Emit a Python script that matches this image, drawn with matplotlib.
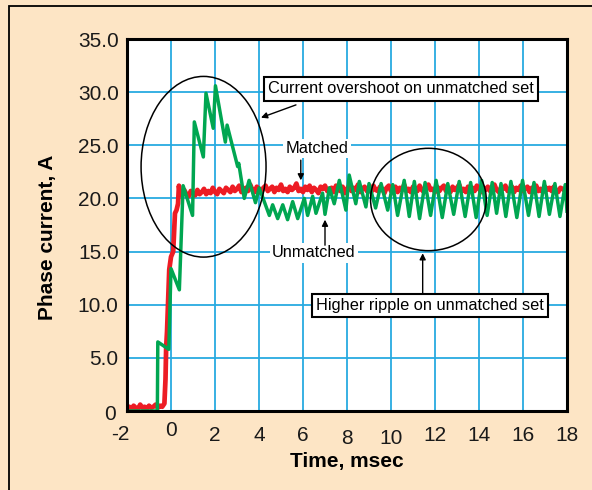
import numpy as np
import matplotlib
matplotlib.use('Agg')
import matplotlib.pyplot as plt
import matplotlib.patches as pat
from matplotlib.transforms import ScaledTranslation

plt.rcParams['font.family'] = ['Liberation Sans', 'DejaVu Sans']

# matched set (red) - noisy trace
red_pre_t = [-2.0, -1.9, -1.8, -1.7, -1.6, -1.5, -1.4, -1.3, -1.2, -1.1,
             -1.0, -0.9, -0.8, -0.7, -0.6, -0.5, -0.4, -0.3]
red_pre_v = [0.2, 0.4, 0.1, 0.5, 0.3, 0.2, 0.6, 0.3, 0.4, 0.2,
             0.5, 0.3, 0.4, 0.6, 0.3, 0.5, 0.4, 0.7]
red_rise_t = [-0.25, -0.22, -0.18, -0.12, -0.08, 0.0, 0.1, 0.18, 0.25, 0.32, 0.36]
red_rise_v = [3.0, 6.0, 7.5, 11.0, 13.3, 14.5, 15.0, 18.6, 18.9, 19.5, 21.2]
# samples every 0.1 ms from 0.4 to 18.0
red_flat_v = [20.6, 20.3, 20.8, 20.4, 20.2, 20.7, 20.5, 20.3, 20.8, 20.4,
              20.6, 20.9, 20.4, 20.7, 20.5, 21.0, 20.6, 20.4, 20.9, 20.7,
              20.5, 21.0, 20.8, 20.6, 21.1, 20.7, 20.9, 21.2, 20.6, 20.8,
              21.0, 20.7, 21.3, 20.8, 20.6, 21.1, 20.9, 20.5, 21.0, 21.2,
              20.7, 20.9, 21.1, 20.6, 21.0, 20.8, 21.3, 20.7, 20.9, 20.6,
              21.1, 20.8, 21.0, 21.4, 20.7, 20.9, 20.6, 21.1, 20.8, 21.2,
              20.6, 21.0, 20.8, 20.5, 21.1, 20.9, 21.2, 20.7, 20.9, 21.0,
              20.6, 21.2, 20.8, 20.7, 21.1, 20.5, 20.9, 21.2, 20.7, 21.0,
              20.8, 21.3, 20.6, 20.9, 21.1, 20.7, 21.0, 20.6, 21.2, 20.8,
              20.7, 21.1, 20.9, 20.5, 21.0, 21.2, 20.7, 20.9, 21.1, 20.6,
              21.0, 20.8, 21.3, 20.7, 20.9, 20.6, 21.1, 21.0, 20.7, 21.2,
              20.8, 20.6, 21.0, 21.3, 20.8, 20.9, 20.6, 21.1, 20.7, 21.0,
              21.2, 20.7, 20.9, 20.6, 21.1, 20.8, 21.0, 21.3, 20.7, 20.9,
              20.6, 21.1, 20.8, 21.0, 20.7, 21.2, 20.9, 20.6, 21.0, 20.8,
              21.1, 20.7, 20.9, 21.3, 20.8, 20.6, 21.0, 20.9, 21.2, 20.7,
              20.9, 21.1, 20.6, 21.0, 20.8, 21.2, 20.7, 20.9, 21.1, 20.6,
              21.0, 20.8, 21.2, 20.7, 20.9, 20.6, 21.1, 20.8, 21.0, 20.7,
              21.1, 20.8, 20.6, 21.0, 20.9, 20.7, 20.9]
red_flat_t = np.round(np.arange(0.4, 18.001, 0.1), 2)

# unmatched set (green)
green_t = [-2.0, -0.62, -0.6, -0.1, 0.0, 0.38, 0.55, 0.98, 1.06, 1.47,
           1.59, 1.92, 2.02, 2.47, 2.55, 3.03, 3.08, 3.33, 3.55, 3.84,
           4.01, 4.47, 4.62, 4.85, 5.08, 5.3, 5.53, 5.76, 6.06, 6.21,
           6.44, 6.59, 6.89, 7.0, 7.2, 7.42, 7.65, 7.95, 8.1, 8.4,
           8.56, 8.86, 9.0, 9.3, 9.55, 9.85, 10.08, 10.3, 10.6, 10.83,
           11.06, 11.3, 11.55, 11.8, 12.05, 12.33, 12.58, 12.85, 13.1, 13.37,
           13.62, 13.87, 14.12, 14.37, 14.6, 14.8, 15.0, 15.22, 15.45, 15.72,
           15.98, 16.25, 16.5, 16.73, 16.97, 17.2, 17.45, 17.68, 17.92, 18.0]
green_v = [0.0, 0.0, 6.5, 5.8, 13.4, 11.4, 21.2, 18.4, 27.2, 23.9,
           29.9, 26.6, 30.6, 25.3, 26.9, 23.0, 23.3, 20.0, 21.7, 19.6,
           21.0, 18.4, 19.4, 18.1, 19.4, 18.0, 19.7, 18.1, 20.0, 18.4,
           20.2, 18.6, 20.5, 18.5, 21.0, 19.5, 21.7, 18.9, 22.2, 19.5,
           21.6, 19.2, 21.4, 19.1, 21.4, 18.9, 21.3, 18.4, 21.7, 18.3,
           21.6, 18.1, 21.5, 18.4, 21.7, 18.2, 21.4, 18.5, 21.6, 18.3,
           21.5, 18.2, 21.7, 18.4, 21.5, 18.6, 21.4, 18.3, 21.6, 18.2,
           21.7, 18.4, 21.5, 18.3, 21.6, 18.5, 21.4, 18.3, 21.3, 18.8]

xticks = [-2, 0, 2, 4, 6, 8, 10, 12, 14, 16, 18]
yticks = [0, 5, 10, 15, 20, 25, 30, 35]
ytick_labels = ['0', '5.0', '10.0', '15.0', '20.0', '25.0', '30.0', '35.0']

bg = '#FDE5C5'
fig = plt.figure(figsize=(5.92, 4.90), dpi=100, facecolor=bg)
ax = fig.add_axes([127/592, 1-411/490, 440/592, 372/490])
ax.set_facecolor('white')

red_t = red_pre_t + red_rise_t + list(red_flat_t)
red_v = red_pre_v + red_rise_v + red_flat_v
ax.plot(red_t, red_v, color='#ED1C24', lw=3.4, zorder=3)
ax.plot(green_t, green_v, color='#00A651', lw=2.5, zorder=4)

ax.set_xlim(-2, 18)
ax.set_ylim(0, 35)
ax.set_xticks(xticks)
ax.set_xticklabels([str(x) for x in xticks])
ax.set_yticks(yticks)
ax.set_yticklabels(ytick_labels)
ax.tick_params(length=0, labelsize=15, colors='#1a1a1a')
ax.tick_params(axis='x', pad=11)
ax.tick_params(axis='y', pad=6)
ax.grid(True, color='#27AAE1', lw=1.3, zorder=1)
ax.set_axisbelow(True)
for s in ax.spines.values():
    s.set_linewidth(2.2)
    s.set_zorder(6)

ax.set_xlabel('Time, msec', fontsize=15, fontweight='bold', labelpad=3)
ax.set_ylabel('Phase current, A', fontsize=15, fontweight='bold')
ax.yaxis.set_label_coords(-0.16, 0.468)

# small hand-placed offsets of some tick labels as in the original
def shift(lbl, dx, dy):
    lbl.set_transform(lbl.get_transform() + ScaledTranslation(dx/72, dy/72, fig.dpi_scale_trans))

xl = ax.get_xticklabels()
shift(xl[0], -5, 1)
shift(xl[1], 0, 3.5)
shift(xl[5], 0, -2)
shift(xl[6], 0, -2)
shift(ax.get_yticklabels()[0], -2, -1)

# ellipses around the regions of interest
ax.add_patch(pat.Ellipse((1.48, 22.98), 5.68, 17.0, fill=False, ec='black', lw=1.1, zorder=5))
ax.add_patch(pat.Ellipse((11.7, 19.9), 5.26, 9.63, fill=False, ec='black', lw=1.1, zorder=5))

arr = dict(arrowstyle='-|>', color='black', lw=1.0, mutation_scale=9, shrinkA=0, shrinkB=0)
ax.annotate('', xy=(4.09, 27.6), xytext=(5.68, 28.8), arrowprops=arr, zorder=5)
ax.text(10.45, 30.3, 'Current overshoot on unmatched set', fontsize=11.8, ha='center', va='center',
        bbox=dict(boxstyle='square,pad=0.25', fc='white', ec='black', lw=1.5), zorder=7)

ax.text(6.64, 24.7, 'Matched', fontsize=11.8, ha='center', va='center',
        bbox=dict(boxstyle='square,pad=0.15', fc='white', ec='none'), zorder=5)
ax.annotate('', xy=(5.9, 21.7), xytext=(5.9, 23.6), arrowprops=arr, zorder=5)

ax.text(6.5, 14.9, 'Unmatched', fontsize=11.8, ha='center', va='center',
        bbox=dict(boxstyle='square,pad=0.15', fc='white', ec='none'), zorder=5)
ax.annotate('', xy=(7.0, 18.0), xytext=(7.0, 15.6), arrowprops=arr, zorder=5)

ax.annotate('', xy=(11.44, 14.84), xytext=(11.44, 10.98), arrowprops=arr, zorder=5)
ax.text(11.77, 9.92, 'Higher ripple on unmatched set', fontsize=11.8, ha='center', va='center',
        bbox=dict(boxstyle='square,pad=0.25', fc='white', ec='black', lw=1.5), zorder=7)

# outer frame of the figure panel
fig.add_artist(plt.Rectangle((9/592, -0.1), 1.0, 1.1 - 6/490, transform=fig.transFigure,
                             fill=False, ec='black', lw=1.3))

fig.savefig('out.png', dpi=100, facecolor=bg)
